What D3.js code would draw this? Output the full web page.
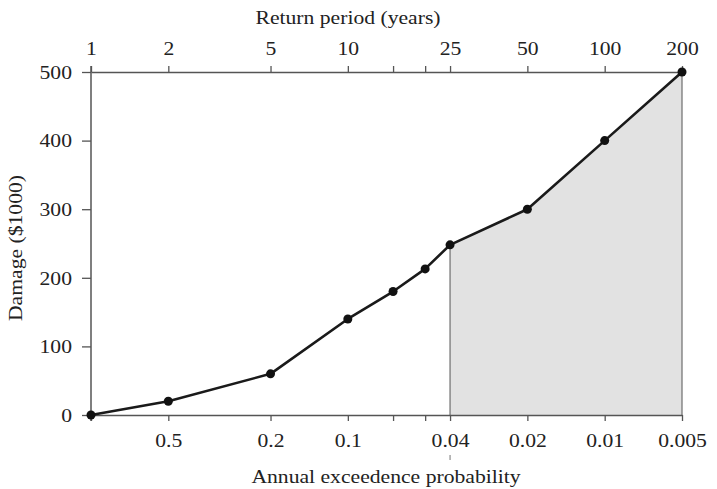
<!DOCTYPE html>
<html><head><meta charset="utf-8">
<script src="https://cdn.jsdelivr.net/npm/d3@7"></script>
<style>
html,body{margin:0;padding:0;background:#fff;}
text{font-family:"Liberation Serif","Times New Roman",serif;fill:#222;}
</style></head>
<body>
<svg id="chart" width="717" height="489"></svg>
<script>
// Data
const returnPeriods = [1, 2, 5, 10, 15, 20, 25, 50, 100, 200];
const damage = [0, 20, 60, 140, 180, 213, 248, 300, 400, 500];
const topTicks = [1, 2, 5, 10, 15, 20, 25, 50, 100, 200];
const topTickLabels = ["1", "2", "5", "10", "", "", "25", "50", "100", "200"];
const probTicks = [1, 0.5, 0.2, 0.1, 1/15, 0.05, 0.04, 0.02, 0.01, 0.005];
const probTickLabels = ["", "0.5", "0.2", "0.1", "", "", "0.04", "0.02", "0.01", "0.005"];
const yTicks = [0, 100, 200, 300, 400, 500];
const shadeFrom = 25;

(function () {
const svg = d3.select("#chart");
const mLeft = 91, mRight = 682, mTop = 72, mBottom = 415;
const SX = 1.14, FS = 19;
const axisColor = "#555";

const x = d3.scaleLog().domain([1, 200]).range([mLeft, mRight]);
const xp = d3.scaleLog().domain([1, 0.005]).range([mLeft, mRight]);
const y = d3.scaleLinear().domain([0, 500]).range([mBottom, mTop]);

const pts = returnPeriods.map((t, i) => ({t, v: damage[i]}));

// shaded area
const shadePts = pts.filter(d => d.t >= shadeFrom);
svg.append("path")
  .datum(shadePts)
  .attr("fill", "#e2e2e2")
  .attr("d", d3.area().x(d => x(d.t)).y0(y(0)).y1(d => y(d.v)));
[shadePts[0], shadePts[shadePts.length - 1]].forEach(d => {
  svg.append("line")
    .attr("x1", x(d.t)).attr("x2", x(d.t))
    .attr("y1", y(0)).attr("y2", y(d.v))
    .attr("stroke", "#777").attr("stroke-width", 1.3);
});

function styleAxis(g) {
  g.select(".domain").attr("stroke", axisColor).attr("stroke-width", 1.5);
  g.selectAll(".tick line").attr("stroke", axisColor).attr("stroke-width", 1.3);
  g.selectAll(".tick text").attr("font-size", FS).attr("fill", "#222")
    .style("font-family", '"Liberation Serif","Times New Roman",serif');
}

// top axis
const gTop = svg.append("g").attr("transform", `translate(0,${mTop})`)
  .call(d3.axisTop(x).tickValues(topTicks)
    .tickFormat((d, i) => topTickLabels[i]).tickSize(6).tickSizeOuter(0));
styleAxis(gTop);
gTop.selectAll(".tick text").attr("y", -17).attr("dy", 0)
  .attr("transform", `scale(${SX},1)`);

// bottom axis
const gBot = svg.append("g").attr("transform", `translate(0,${mBottom})`)
  .call(d3.axisBottom(xp).tickValues(probTicks)
    .tickFormat((d, i) => probTickLabels[i]).tickSize(6).tickSizeOuter(0));
styleAxis(gBot);
gBot.selectAll(".tick text").attr("y", 32).attr("dy", 0)
  .attr("transform", `scale(${SX},1)`);

// small mark under the 0.04 label
svg.append("line")
  .attr("x1", xp(0.04)).attr("x2", xp(0.04)).attr("y1", 455).attr("y2", 460)
  .attr("stroke", "#777").attr("stroke-width", 1);

// left axis
const gLeft = svg.append("g").attr("transform", `translate(${mLeft},0)`)
  .call(d3.axisLeft(y).tickValues(yTicks).tickSize(9).tickSizeOuter(0));
styleAxis(gLeft);
gLeft.select(".domain").remove();
gLeft.selectAll(".tick text").attr("x", 0).attr("dy", "0.33em")
  .attr("transform", `translate(-19,0) scale(${SX},1)`);
svg.append("line")
  .attr("x1", mLeft).attr("x2", mLeft).attr("y1", mTop - 6).attr("y2", mBottom + 6)
  .attr("stroke", axisColor).attr("stroke-width", 1.5);

// line
svg.append("path")
  .datum(pts)
  .attr("fill", "none").attr("stroke", "#1a1a1a").attr("stroke-width", 2.6)
  .attr("stroke-linejoin", "round")
  .attr("d", d3.line().x(d => x(d.t)).y(d => y(d.v)));

svg.selectAll("circle.pt").data(pts).enter().append("circle")
  .attr("class", "pt")
  .attr("cx", d => x(d.t)).attr("cy", d => y(d.v)).attr("r", 4.5)
  .attr("fill", "#111");

// titles
svg.append("text")
  .attr("transform", `translate(348,24) scale(${SX},1)`)
  .attr("text-anchor", "middle").attr("font-size", FS)
  .text("Return period (years)");
svg.append("text")
  .attr("transform", `translate(386,483) scale(${SX},1)`)
  .attr("text-anchor", "middle").attr("font-size", FS)
  .text("Annual exceedence probability");
svg.append("text")
  .attr("transform", `translate(22,248) rotate(-90) scale(${SX},1)`)
  .attr("text-anchor", "middle").attr("font-size", FS)
  .text("Damage ($1000)");
})();
</script>
</body></html>
